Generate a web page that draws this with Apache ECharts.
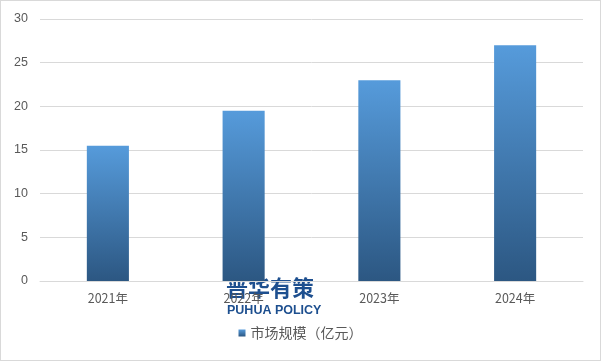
<!DOCTYPE html>
<html><head><meta charset="utf-8">
<script src="https://cdn.jsdelivr.net/npm/echarts@6/dist/echarts.min.js"></script>
<style>html,body{margin:0;padding:0;background:#fff}#c{width:601px;height:361px;box-sizing:border-box;border:1px solid #d9d9d9}</style>
</head><body><div id="c"></div>
<script>
const categories = ['2021年', '2022年', '2023年', '2024年'];
const marketSize = [15.5, 19.5, 23, 27];
const yTicks = [0, 5, 10, 15, 20, 25, 30];
const seriesName = '市场规模（亿元）';

const chart = echarts.init(document.getElementById('c'));
const grad = new echarts.graphic.LinearGradient(0, 0, 0, 1, [
  {offset: 0, color: '#569bdb'},
  {offset: 1, color: '#2c5782'}
]);
chart.setOption({
  animation: false,
  textStyle: {fontFamily: '"Noto Sans CJK SC", "Liberation Sans", sans-serif'},
  grid: {left: 39, right: 17, top: 18, bottom: 79},
  legend: {
    bottom: 15, left: 'center', itemWidth: 7, itemHeight: 7, icon: 'rect', itemGap: 4,
    textStyle: {color: '#595959', fontSize: 14, fontFamily: '"Noto Sans CJK SC", sans-serif'},
    data: [seriesName]
  },
  xAxis: {
    type: 'category', data: categories,
    axisLine: {lineStyle: {color: '#d9d9d9'}},
    axisTick: {show: false},
    axisLabel: {color: '#595959', fontSize: 12.5, margin: 11}
  },
  yAxis: {
    type: 'value', min: yTicks[0], max: yTicks[yTicks.length - 1], interval: 5,
    axisLine: {show: false}, axisTick: {show: false},
    axisLabel: {color: '#595959', fontSize: 12.5, margin: 12, fontFamily: '"Liberation Sans", sans-serif'},
    splitLine: {lineStyle: {color: '#d9d9d9'}}
  },
  series: [{
    name: seriesName, type: 'bar', data: marketSize, barWidth: '31%',
    itemStyle: {color: grad}
  }],
  graphic: [
    {type: 'text', left: 225, top: 276, style: {text: '普华有策', fill: '#1d4f8f', font: 'bold 22px "Noto Sans CJK SC", sans-serif'}},
    {type: 'text', left: 226, top: 303, style: {text: 'PUHUA POLICY', fill: '#1d4f8f', font: 'bold 12.5px "Liberation Sans", sans-serif'}}
  ]
});
</script></body></html>
